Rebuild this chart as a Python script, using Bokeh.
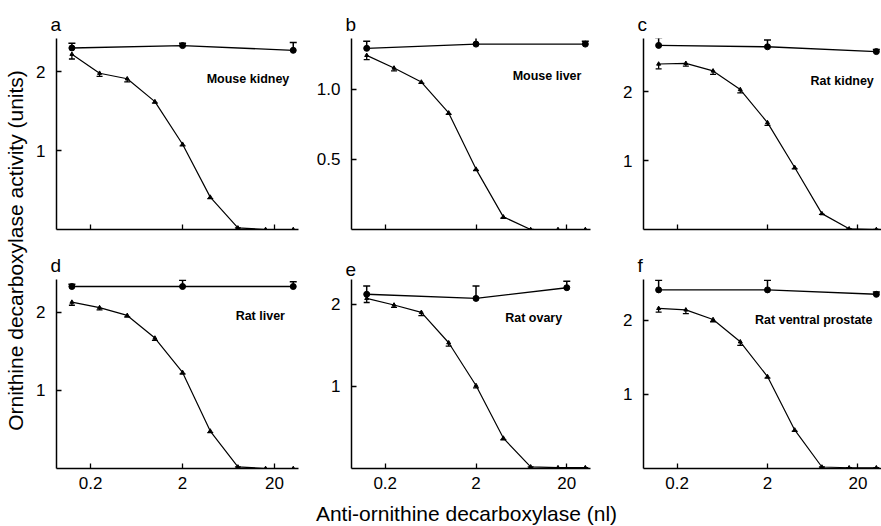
import numpy as np
from bokeh.plotting import figure
from bokeh.models import Range1d, FixedTicker, ColumnDataSource, Whisker, TeeHead
from bokeh.layouts import row, column
from bokeh.embed import file_html
from bokeh.resources import INLINE
from bokeh.core.properties import value

# ---------------- data ----------------
x_ctrl = [0.125, 2, 32]
x_ctrl_e = [0.125, 2, 20]
x_ab = [0.125, 0.25, 0.5, 1, 2, 4, 8, 16, 32]
x_ticks = [0.2, 2, 20]
x_tick_labels = ["0.2", "2", "20"]

letters = ["a", "b", "c", "d", "e", "f"]
tissues = ["Mouse kidney", "Mouse liver", "Rat kidney", "Rat liver", "Rat ovary", "Rat ventral prostate"]

ctrl_a = [2.30, 2.33, 2.27]
ctrl_a_err = [0.06, 0.03, 0.10]
ab_a = [2.22, 1.98, 1.91, 1.62, 1.08, 0.41, 0.02, 0.0, 0.0]
ab_a_err = [0.06, 0.04, 0.04, 0.02, 0.02, 0.02, 0.0, 0.02, 0.02]

ctrl_b = [1.29, 1.32, 1.32]
ctrl_b_err = [0.05, 0.06, 0.02]
ab_b = [1.24, 1.15, 1.05, 0.83, 0.43, 0.09, 0.0, 0.0, 0.0]
ab_b_err = [0.03, 0.02, 0.01, 0.01, 0.01, 0.01, 0.0, 0.01, 0.01]

ctrl_c = [2.67, 2.65, 2.58]
ctrl_c_err = [0.11, 0.10, 0.03]
ab_c = [2.40, 2.41, 2.30, 2.03, 1.55, 0.90, 0.23, 0.01, 0.0]
ab_c_err = [0.07, 0.04, 0.05, 0.05, 0.04, 0.02, 0.01, 0.0, 0.0]

ctrl_d = [2.33, 2.33, 2.33]
ctrl_d_err = [0.03, 0.08, 0.06]
ab_d = [2.13, 2.06, 1.96, 1.67, 1.23, 0.48, 0.02, 0.0, 0.0]
ab_d_err = [0.04, 0.03, 0.02, 0.03, 0.02, 0.02, 0.0, 0.01, 0.01]

ctrl_e = [2.12, 2.07, 2.20]
ctrl_e_err = [0.10, 0.15, 0.08]
ab_e = [2.07, 1.99, 1.90, 1.53, 1.01, 0.37, 0.02, 0.01, 0.01]
ab_e_err = [0.05, 0.03, 0.04, 0.04, 0.03, 0.02, 0.0, 0.0, 0.0]

ctrl_f = [2.41, 2.41, 2.35]
ctrl_f_err = [0.13, 0.13, 0.03]
ab_f = [2.16, 2.14, 2.01, 1.71, 1.24, 0.52, 0.02, 0.01, 0.01]
ab_f_err = [0.05, 0.05, 0.03, 0.05, 0.02, 0.02, 0.0, 0.0, 0.0]

yticks_std = [1, 2]
yticks_std_labels = ["1", "2"]
yticks_b = [0.5, 1.0]
yticks_b_labels = ["0.5", "1.0"]

y_label = "Ornithine decarboxylase activity (units)"
x_label = "Anti-ornithine decarboxylase (nl)"

# label anchor (data units, right-aligned)
label_x = [29, 29, 30, 26, 17.8, 29]
label_y = [1.91, 1.09, 2.16, 1.95, 1.83, 2.01]

FONT = "Liberation Sans"


def make_panel(letter, tissue, xc, yc, ec, yab, eab, yt, ytl, y_end, x_end,
               width, height, bl, br, bt, bb, show_xlabels, lx, ly):
    p = figure(width=width, height=height, x_axis_type="log",
               x_range=Range1d(0.085, x_end), y_range=Range1d(0, y_end),
               output_backend="svg", toolbar_location=None,
               min_border_left=bl, min_border_right=br,
               min_border_top=bt, min_border_bottom=bb)
    p.title.text = letter
    p.title.text_font = FONT
    p.title.text_font_size = "19px"
    p.title.text_font_style = "normal"
    p.title.text_color = "black"
    p.title.align = "left"
    p.title.offset = -6
    p.title.standoff = 8
    p.grid.visible = False
    p.outline_line_color = None
    p.background_fill_color = "white"
    p.border_fill_color = "white"

    for ax in (p.xaxis[0], p.yaxis[0]):
        ax.axis_line_width = 1.5
        ax.axis_line_color = "black"
        ax.major_tick_in = 5
        ax.major_tick_out = 0
        ax.major_tick_line_width = 1.3
        ax.minor_tick_line_color = None
        ax.major_label_text_font = FONT
        ax.major_label_text_font_size = "17px"
        ax.major_label_text_color = "black"

    p.xaxis[0].ticker = FixedTicker(ticks=x_ticks, minor_ticks=[])
    if show_xlabels:
        p.xaxis[0].major_label_overrides = dict(zip(x_ticks, x_tick_labels))
    else:
        p.xaxis[0].major_label_overrides = {t: "" for t in x_ticks}
    p.xaxis[0].major_label_standoff = 8
    p.yaxis[0].ticker = FixedTicker(ticks=yt, minor_ticks=[])
    p.yaxis[0].major_label_overrides = dict(zip(yt, ytl))
    p.yaxis[0].major_label_standoff = 11

    yc = np.array(yc, dtype=float)
    ec = np.array(ec, dtype=float)
    yab = np.array(yab, dtype=float)
    eab = np.array(eab, dtype=float)

    src_c = ColumnDataSource(dict(x=xc, y=yc, up=yc + ec))
    src_a = ColumnDataSource(dict(x=x_ab, y=yab, lo=yab - eab))

    p.line("x", "y", source=src_c, line_color="black", line_width=1.4)
    p.line("x", "y", source=src_a, line_color="black", line_width=1.2)

    p.add_layout(Whisker(source=src_c, base="x", upper="up", lower="y",
                         upper_head=TeeHead(size=7, line_width=1.5), lower_head=None,
                         line_width=1.5, line_color="black"))
    p.add_layout(Whisker(source=src_a, base="x", upper="y", lower="lo",
                         lower_head=TeeHead(size=6, line_width=1.3), upper_head=None,
                         line_width=1.3, line_color="black"))

    p.scatter("x", "y", source=src_c, marker="circle", size=6,
              fill_color="black", line_color="black")
    p.scatter("x", "y", source=src_a, marker="triangle", size=4,
              fill_color="black", line_color="black")

    p.text(x=[lx], y=[ly], text=[tissue], text_align="right", text_baseline="middle",
           text_font=value(FONT), text_font_size="12.5px", text_font_style="bold",
           text_color="black")
    return p


ctrls = [ctrl_a, ctrl_b, ctrl_c, ctrl_d, ctrl_e, ctrl_f]
ctrl_errs = [ctrl_a_err, ctrl_b_err, ctrl_c_err, ctrl_d_err, ctrl_e_err, ctrl_f_err]
abs_ = [ab_a, ab_b, ab_c, ab_d, ab_e, ab_f]
ab_errs = [ab_a_err, ab_b_err, ab_c_err, ab_d_err, ab_e_err, ab_f_err]
ctrl_xs = [x_ctrl, x_ctrl, x_ctrl, x_ctrl, x_ctrl_e, x_ctrl]
ytk = [yticks_std, yticks_b, yticks_std, yticks_std, yticks_std, yticks_std]
ytkl = [yticks_std_labels, yticks_b_labels, yticks_std_labels,
        yticks_std_labels, yticks_std_labels, yticks_std_labels]
y_ends = [2.42, 1.36, 2.77, 2.42, 2.30, 2.55]
x_ends = [36.5, 36.5, 36.5, 36.5, 36.5, 36.5]

col_w = [278, 292, 283]
col_bl = [28, 45, 45]
col_br = [8, 8, 0]
row_h = [248, 252]
row_bt = [38, 29]
row_bb = [19, 32]

panels = []
for i in range(6):
    r, c = divmod(i, 3)
    panels.append(make_panel(letters[i], tissues[i], ctrl_xs[i], ctrls[i], ctrl_errs[i],
                             abs_[i], ab_errs[i], ytk[i], ytkl[i], y_ends[i], x_ends[i],
                             col_w[c], row_h[r], col_bl[c], col_br[c], row_bt[r], row_bb[r],
                             r == 1, label_x[i], label_y[i]))

H = sum(row_h)
# y label strip
ylab = figure(width=28, height=H, x_range=Range1d(0, 28), y_range=Range1d(0, H),
              output_backend="svg", toolbar_location=None,
              min_border_left=0, min_border_right=0, min_border_top=0, min_border_bottom=0)
ylab.axis.visible = False
ylab.grid.visible = False
ylab.outline_line_color = None
ylab.text(x=[15], y=[H - 250], text=[y_label], angle=np.pi / 2, text_align="center",
          text_baseline="middle", text_font=value(FONT), text_font_size="21px", text_color="black")

# x label strip
XW = 881
XH = 26
xlab = figure(width=XW, height=XH, x_range=Range1d(0, XW), y_range=Range1d(0, XH),
              output_backend="svg", toolbar_location=None,
              min_border_left=0, min_border_right=0, min_border_top=0, min_border_bottom=0)
xlab.axis.visible = False
xlab.grid.visible = False
xlab.outline_line_color = None
xlab.text(x=[466], y=[XH - 13], text=[x_label], text_align="center", text_baseline="middle",
          text_font=value(FONT), text_font_size="21px", text_color="black")

layout = column(
    row(ylab, column(row(*panels[:3]), row(*panels[3:]))),
    xlab,
)

open("out.html", "w").write(file_html(layout, INLINE))
